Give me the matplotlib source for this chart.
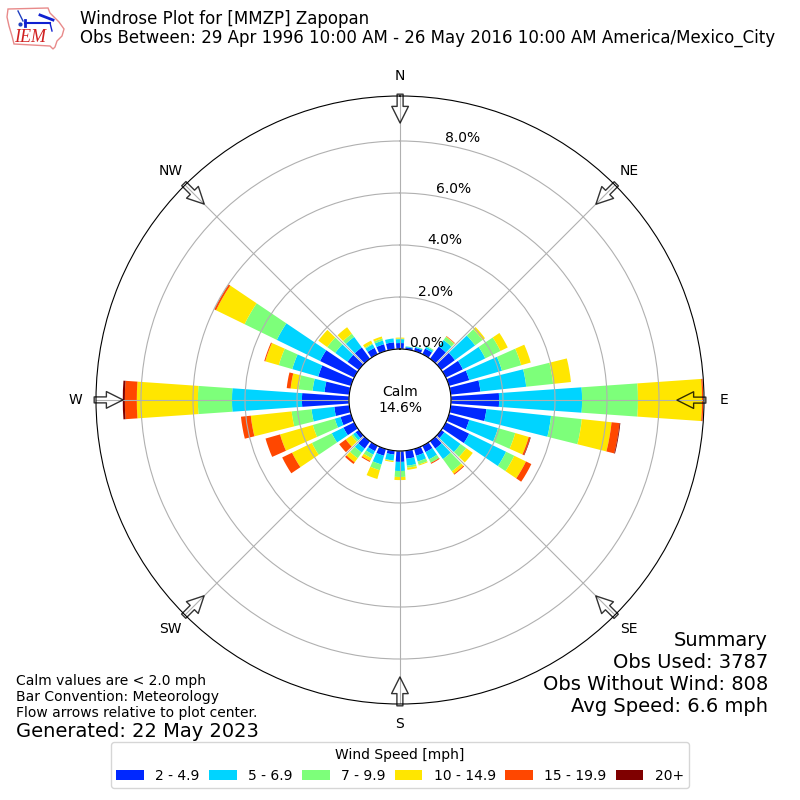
"""
Windrose plot for MMZP, drawn on polar axes with stacked bars per direction.
"""

import matplotlib

matplotlib.use("Agg")
import matplotlib.pyplot as plt
import numpy as np
from matplotlib.patches import Polygon

# Percent of observations, one value per 10 degree direction starting at north
directions = list(range(0, 360, 10))
speed_2_5 = [0.23, 0.08, 0.13, 0.24, 0.58, 0.65, 0.73, 0.81, 1.15, 1.85, 1.38, 0.81,
             1.00, 0.15, 0.35, 0.27, 0.27, 0.31, 0.42, 0.15, 0.27, 0.23, 0.35, 0.15,
             0.46, 0.42, 0.58, 1.81, 0.96, 1.31, 1.46, 0.54, 0.54, 0.27, 0.27, 0.27]
speed_5_7 = [0.15, 0.03, 0.04, 0.08, 0.31, 0.96, 0.96, 1.31, 1.77, 3.19, 2.50, 1.15,
             1.58, 0.77, 0.50, 0.31, 0.23, 0.27, 0.35, 0.23, 0.35, 0.15, 0.19, 0.12,
             0.50, 0.23, 0.88, 2.69, 0.46, 1.04, 1.85, 0.58, 0.50, 0.15, 0.15, 0.15]
speed_7_10 = [0.02, 0.01, 0.02, 0.04, 0.15, 0.35, 0.65, 0.77, 1.04, 2.15, 1.19, 0.69,
              0.35, 0.27, 0.58, 0.15, 0.12, 0.08, 0.23, 0.02, 0.23, 0.15, 0.27, 0.08,
              0.85, 0.88, 0.77, 1.31, 0.54, 0.54, 1.38, 0.38, 0.15, 0.04, 0.08, 0.00]
speed_10_15 = [0.04, 0.00, 0.00, 0.00, 0.02, 0.12, 0.31, 0.38, 0.69, 2.46, 1.15, 0.54,
               0.50, 0.31, 0.12, 0.00, 0.04, 0.08, 0.12, 0.04, 0.35, 0.12, 0.19, 0.27,
               0.85, 1.31, 1.58, 2.35, 0.31, 0.54, 1.22, 0.42, 0.31, 0.12, 0.08, 0.00]
speed_15_20 = [0.00, 0.00, 0.00, 0.00, 0.02, 0.00, 0.00, 0.00, 0.00, 0.05, 0.31, 0.06,
               0.23, 0.00, 0.04, 0.04, 0.00, 0.00, 0.00, 0.00, 0.00, 0.04, 0.08, 0.31,
               0.42, 0.58, 0.38, 0.46, 0.15, 0.04, 0.08, 0.00, 0.00, 0.00, 0.00, 0.00]
speed_20_up = [0.00, 0.00, 0.00, 0.00, 0.00, 0.00, 0.00, 0.00, 0.00, 0.00, 0.03, 0.02,
               0.00, 0.00, 0.00, 0.00, 0.00, 0.00, 0.00, 0.00, 0.00, 0.00, 0.00, 0.00,
               0.00, 0.00, 0.00, 0.08, 0.00, 0.00, 0.00, 0.00, 0.00, 0.00, 0.00, 0.00]

speed_labels = ["2 - 4.9", "5 - 6.9", "7 - 9.9", "10 - 14.9", "15 - 19.9", "20+"]
speed_colors = ["#0028ff", "#00d4ff", "#7dff7a", "#ffe600", "#ff4700", "#7f0000"]

compass_labels = ["N", "NE", "E", "SE", "S", "SW", "W", "NW"]
radial_ticks = [0, 2, 4, 6, 8]

R_ORIGIN = -1.96
R_MAX = 9.73


def draw_logo(fig):
    """Rough version of the IEM logo, an Iowa outline with a wind barb."""
    ax = fig.add_axes([0, 0.93, 0.09, 0.07])
    ax.set_xlim(0, 72)
    ax.set_ylim(56, 0)
    ax.axis("off")
    outline = [(8, 9), (48, 8), (50, 13), (59, 22), (64, 29), (62, 36), (57, 41),
               (55, 47), (53, 49), (50, 46), (14, 44), (12, 36), (9, 26), (7, 17)]
    ax.add_patch(Polygon(outline, closed=True, fill=False, edgecolor="#e88a8a", lw=1))
    ax.plot([25, 50], [23, 23], color="#1020d0", lw=1.5)
    ax.plot([25, 25], [20, 26], color="#1020d0", lw=2)
    ax.plot([18, 23], [11, 21], color="#2040c0", lw=1)
    ax.plot([40, 53], [15, 20], color="#1020d0", lw=2)
    ax.plot([50, 52], [23, 31], color="#1020d0", lw=1)
    ax.plot([20], [24], marker="o", ms=2, color="#2040c0")
    ax.text(30, 38, "IEM", color="#d02020", fontsize=13, style="italic",
            family="Liberation Serif", ha="center", va="center")


def plot_windrose(output_file="out.png"):
    fig = plt.figure(figsize=(8, 8), dpi=100)
    ax = fig.add_axes([0.12, 0.12, 0.76, 0.76], projection="polar")
    ax.set_theta_zero_location("N")
    ax.set_theta_direction(-1)

    theta = np.deg2rad(directions)
    series = [speed_2_5, speed_5_7, speed_7_10, speed_10_15, speed_15_20, speed_20_up]
    base = np.zeros(len(directions))
    handles = []
    for values, label, color in zip(series, speed_labels, speed_colors):
        bars = ax.bar(theta, values, width=np.deg2rad(8), bottom=base, color=color,
                      linewidth=0, label=label)
        handles.append(bars)
        base = base + np.array(values)

    ax.set_rorigin(R_ORIGIN)
    ax.set_ylim(0, R_MAX)
    ax.set_rticks(radial_ticks)
    ax.set_yticklabels([f"{v:.1f}%" for v in radial_ticks])
    ax.set_rlabel_position(10)
    ax.set_thetagrids(np.arange(0, 360, 45), compass_labels)
    ax.tick_params(axis="x", pad=4)
    ax.grid(True)

    # Flow arrows around the edge pointing at the center, the small angle nudge
    # keeps the east and west arrows from vanishing when exactly horizontal
    for angle in np.arange(0, 360, 45):
        ax.annotate(
            "",
            xy=(np.deg2rad(angle + 0.02), 8.69),
            xytext=(np.deg2rad(angle + 0.02), 9.8),
            arrowprops=dict(width=4.3, headwidth=12, headlength=12, shrink=0,
                            facecolor="none", edgecolor="black", alpha=0.8, lw=1),
        )

    ax.text(0.5, 0.5, "Calm\n14.6%", transform=ax.transAxes, ha="center", va="center",
            fontsize=10)

    fig.text(0.1, 0.941, "Windrose Plot for [MMZP] Zapopan\n"
             "Obs Between: 29 Apr 1996 10:00 AM - 26 May 2016 10:00 AM America/Mexico_City",
             fontsize=12, linespacing=1.08, ha="left", va="bottom")
    fig.text(0.96, 0.1055, "Summary\nObs Used: 3787\nObs Without Wind: 808\nAvg Speed: 6.6 mph",
             fontsize=14, ha="right", va="bottom")
    fig.text(0.02, 0.1, "Calm values are < 2.0 mph\nBar Convention: Meteorology\n"
             "Flow arrows relative to plot center.", fontsize=10, ha="left", va="bottom")
    fig.text(0.02, 0.074, "Generated: 22 May 2023", fontsize=14, ha="left", va="bottom")

    fig.legend(handles=handles, title="Wind Speed [mph]", ncol=6, fontsize=10,
               columnspacing=0.68, loc="lower center", bbox_to_anchor=(0.5, 0.00625))

    draw_logo(fig)
    fig.savefig(output_file, dpi=100)


def main():
    plot_windrose()


if __name__ == "__main__":
    main()
